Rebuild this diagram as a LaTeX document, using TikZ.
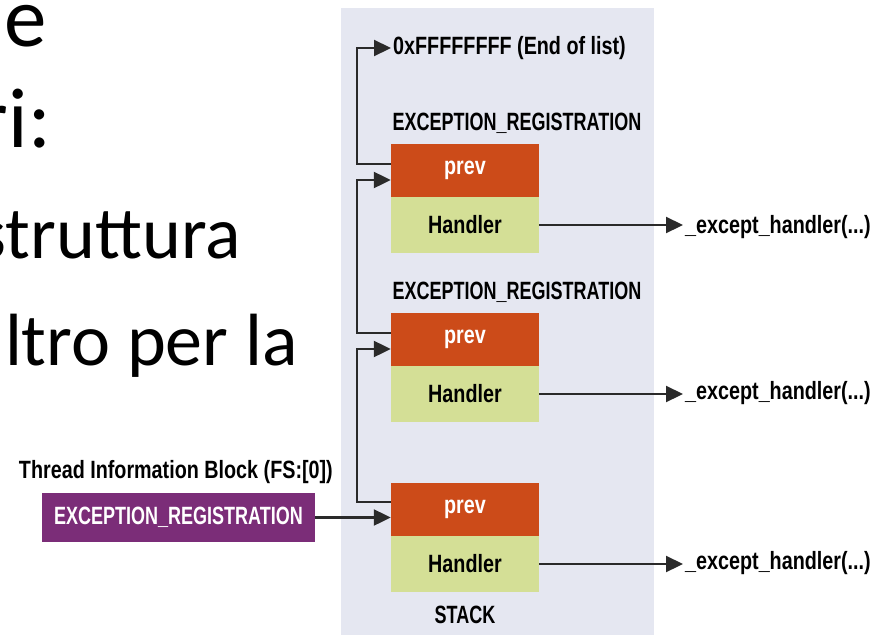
\documentclass[tikz,border=0pt]{standalone}
\usepackage{fontspec}
\setmainfont{Carlito}
\newfontfamily\cond{Liberation Sans Bold}[FakeStretch=0.72]
\newfontfamily\condw{Liberation Sans Bold}[FakeStretch=0.79]
\usetikzlibrary{arrows.meta}
\definecolor{stackbg}{HTML}{E5E7F1}
\definecolor{prevc}{HTML}{CC4B19}
\definecolor{handc}{HTML}{D4DF96}
\definecolor{purp}{HTML}{7B2D78}
\definecolor{linec}{HTML}{2A2A2A}
\tikzset{
  slide/.style={inner sep=0pt,font=\fontsize{74}{80}\selectfont},
  slidebig/.style={inner sep=0pt,font=\fontsize{85}{90}\selectfont},
  lbl/.style={inner sep=0pt,font=\cond\fontsize{25}{28}\selectfont,text=black},
  lblw/.style={inner sep=0pt,font=\condw\fontsize{25}{28}\selectfont,text=black},
  prevbox/.style={fill=prevc,minimum width=148pt,minimum height=53pt,inner sep=0pt,
    font=\condw\fontsize{25}{28}\selectfont,text=white},
  handbox/.style={fill=handc,minimum width=148pt,minimum height=56pt,inner sep=0pt,
    font=\condw\fontsize{25}{28}\selectfont,text=black},
  conn/.style={draw=linec,line width=2.2pt},
  arr/.style={conn,-{Triangle[length=17pt,width=16pt]}},
}
\begin{document}
\begin{tikzpicture}[x=1pt,y=-1pt]
\useasboundingbox (0,0) rectangle (889,635);
% slide text
\node[slidebig,anchor=base east] (t1) at (46.5,46) {e};
\node[slidebig,anchor=base east] (t2) at (51,147) {ri:};
\node[slide,anchor=base east] (t3) at (241,258) {struttura};
\node[slide,anchor=base east] (t4) at (298,365) {ltro per la};
% stack
\fill[stackbg] (341,8) rectangle (654,635);
\node[lblw,anchor=west] (eol) at (393,48) {0xFFFFFFFF (End of list)};
\node[lbl] (er1) at (517,123) {EXCEPTION\_REGISTRATION};
\node[lbl] (er2) at (517,292) {EXCEPTION\_REGISTRATION};
\node[prevbox] (p1) at (465,170.5) {prev};
\node[handbox] (h1) at (465,225) {Handler};
\node[prevbox] (p2) at (465,339.5) {prev};
\node[handbox] (h2) at (465,394) {Handler};
\node[prevbox] (p3) at (465,509.5) {prev};
\node[handbox] (h3) at (465,564) {Handler};
\node[lbl] (stk) at (465,615) {STACK};
% handlers
\node[lblw,anchor=west] (x1) at (685,227) {\_except\_handler(...)};
\node[lblw,anchor=west] (x2) at (685,393) {\_except\_handler(...)};
\node[lblw,anchor=west] (x3) at (685,563) {\_except\_handler(...)};
% TIB
\node[lblw,anchor=east] (tib) at (333,472) {Thread Information Block (FS:[0])};
\node[fill=purp,minimum width=273pt,minimum height=49pt,inner sep=0pt,
  font=\cond\fontsize{25}{28}\selectfont,text=white] (tr) at (178.5,517.5) {EXCEPTION\_REGISTRATION};
% connectors
\draw[arr] ([yshift=6.5pt]p1.west) -- ++(-34,0) |- ([xshift=-2pt]eol.west);
\draw[arr] ([yshift=6.5pt]p2.west) -- ++(-34,0) |- ([yshift=-9.5pt]p1.west);
\draw[arr] ([yshift=7.5pt]p3.west) -- ++(-34,0) |- ([yshift=-9.5pt]p2.west);
\draw[arr] (tr.east) -- (tr.east -| p3.west);
\draw[arr] (h1.east) -- ([xshift=-2pt]h1.east -| x1.west);
\draw[arr] (h2.east) -- ([xshift=-2pt]h2.east -| x2.west);
\draw[arr] (h3.east) -- ([xshift=-2pt]h3.east -| x3.west);
\end{tikzpicture}
\end{document}
